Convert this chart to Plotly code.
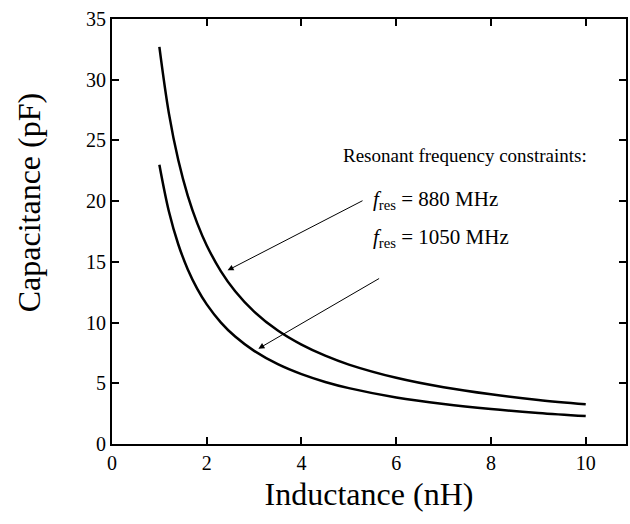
import plotly.graph_objects as go

# Values
inductance_nh = [1, 1.2, 1.4, 1.6, 1.8, 2, 2.3, 2.6, 3, 3.5, 4, 4.5, 5, 6, 7, 8, 9, 10]
cap_880 = [32.7, 27.25, 23.36, 20.44, 18.17, 16.35, 14.22, 12.58, 10.9, 9.34, 8.18, 7.27, 6.54, 5.45, 4.67, 4.09, 3.63, 3.27]
cap_1050 = [23.0, 19.17, 16.43, 14.38, 12.78, 11.5, 10.0, 8.85, 7.67, 6.57, 5.75, 5.11, 4.6, 3.83, 3.29, 2.88, 2.56, 2.3]

x_ticks = [0, 2, 4, 6, 8, 10]
y_ticks = [0, 5, 10, 15, 20, 25, 30, 35]

FONT = "Liberation Serif"

fig = go.Figure()
for ys in (cap_880, cap_1050):
    fig.add_trace(go.Scatter(x=inductance_nh, y=ys, mode="lines",
                             line=dict(color="black", width=2.5, shape="spline"),
                             showlegend=False, hoverinfo="skip"))

axis_common = dict(showgrid=False, zeroline=False, showline=True, linecolor="black",
                   linewidth=2, ticks="inside", ticklen=7, tickwidth=1.5, tickcolor="black",
                   mirror="ticks", tickfont=dict(family=FONT, size=20, color="black"))

fig.update_xaxes(range=[0, 10.85], tickvals=x_ticks,
                 title=dict(text="Inductance (nH)", font=dict(family=FONT, size=32, color="black"), standoff=10),
                 **axis_common)
fig.update_yaxes(range=[0, 35], tickvals=y_ticks, **axis_common)

# y-axis title placed like the reference (slightly above plot centre)
fig.add_annotation(x=-0.161, y=0.567, xref="paper", yref="paper", text="Capacitance (pF)",
                   textangle=-90, showarrow=False, xanchor="center", yanchor="middle",
                   font=dict(family=FONT, size=32, color="black"))

fig.add_annotation(x=7.46, y=23.8, text="Resonant frequency constraints:", showarrow=False,
                   font=dict(family=FONT, size=19, color="black"))
fig.add_annotation(x=5.46, y=20.1, text="<i>f</i><sub>res</sub> = 880 MHz", showarrow=False,
                   xanchor="left", font=dict(family=FONT, size=21, color="black"))
fig.add_annotation(x=5.46, y=17.0, text="<i>f</i><sub>res</sub> = 1050 MHz", showarrow=False,
                   xanchor="left", font=dict(family=FONT, size=21, color="black"))

# arrows
fig.add_annotation(x=2.44, y=14.3, ax=5.32, ay=20.1, xref="x", yref="y", axref="x", ayref="y",
                   text="", showarrow=True, arrowhead=2, arrowsize=1.2, arrowwidth=1, arrowcolor="black")
fig.add_annotation(x=3.09, y=7.85, ax=5.67, ay=13.7, xref="x", yref="y", axref="x", ayref="y",
                   text="", showarrow=True, arrowhead=2, arrowsize=1.2, arrowwidth=1, arrowcolor="black")

fig.update_layout(width=630, height=524, margin=dict(l=112, r=2, t=19, b=80),
                  plot_bgcolor="white", paper_bgcolor="white")

fig.write_html("out.html")
